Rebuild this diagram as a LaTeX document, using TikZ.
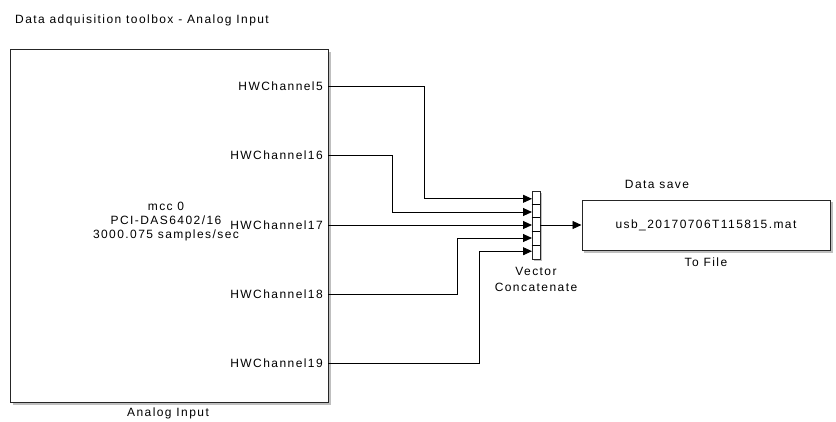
\documentclass[tikz,border=0pt]{standalone}
\usepackage{fontspec}
\setmainfont{Liberation Sans}[LetterSpace=12]
\usetikzlibrary{arrows.meta}
\begin{document}
\begin{tikzpicture}[x=1pt,y=-1pt,
  font=\fontsize{12}{14}\selectfont,
  block/.style={draw=black!85, fill=white, line width=1pt, inner sep=0pt},
  shadowbox/.style={fill=black!30, draw=none, inner sep=0pt},
  wire/.style={line width=0.9pt, draw=black},
  arr/.style={wire, -{Triangle[length=9pt,width=8pt]}},
  lbl/.style={inner sep=0pt, anchor=base},
  portlbl/.style={inner sep=0pt, anchor=east}
]
\useasboundingbox (0,0) rectangle (836,421);

% title
\node[lbl, anchor=base west] (title) at (15,23) {Data adquisition toolbox - Analog Input};

% Analog Input block
\fill[black!25] (12.5,51.5) rectangle (330.5,404.5);
\node[block, minimum width=318pt, minimum height=353pt] (ai) at (169,225.5) {};
\node[lbl] (ailbl) at (168,416) {Analog Input};
\node[inner sep=0pt, align=center, font=\fontsize{12}{14}\selectfont] (aitxt) at (166,222) {mcc 0\\PCI-DAS6402/16\\3000.075 samples/sec};

\coordinate (p5) at (328,86);
\coordinate (p16) at (328,155);
\coordinate (p17) at (328,225);
\coordinate (p18) at (328,294);
\coordinate (p19) at (328,363);
\node[portlbl] (l5) at (323,86) {HWChannel5};
\node[portlbl] (l16) at (323,155) {HWChannel16};
\node[portlbl] (l17) at (323,225) {HWChannel17};
\node[portlbl] (l18) at (323,294) {HWChannel18};
\node[portlbl] (l19) at (323,363) {HWChannel19};

% Vector concatenate
\fill[black!25] (534,193) rectangle (542,261);
\node[block, minimum width=8pt, minimum height=68pt, line width=0.9pt] (vc) at (536,225) {};
\foreach \i in {1,...,4} {
  \draw[line width=0.7pt] ([yshift=-13.6*\i pt]vc.north west) -- ([yshift=-13.6*\i pt]vc.north east);
}
\coordinate (v1) at (532,198.8);
\coordinate (v2) at (532,212);
\coordinate (v3) at (532,225);
\coordinate (v4) at (532,238);
\coordinate (v5) at (532,251.2);
\node[lbl, align=center] (vclbl) at (536,275) {Vector};
\node[lbl] (vclbl2) at (536,291) {Concatenate};

% To File
\fill[black!25] (584,202) rectangle (833,252.5);
\node[block, minimum width=248pt, minimum height=50pt] (tf) at (706,225) {};
\node[inner sep=0pt] (tftxt) at (706,225) {usb\_20170706T115815.mat};
\node[lbl] (ds) at (657,188) {Data save};
\node[lbl] (tflbl) at (706,266) {To File};

% wires
\draw[arr] (p5) -| (424,198.8) -- (v1);
\draw[arr] (p16) -| (392,212) -- (v2);
\draw[arr] (p17) -- (v3);
\draw[arr] (p18) -| (457,238) -- (v4);
\draw[arr] (p19) -| (479,251.2) -- (v5);
\draw[arr] (vc.east) -- (tf.west);
\end{tikzpicture}
\end{document}
